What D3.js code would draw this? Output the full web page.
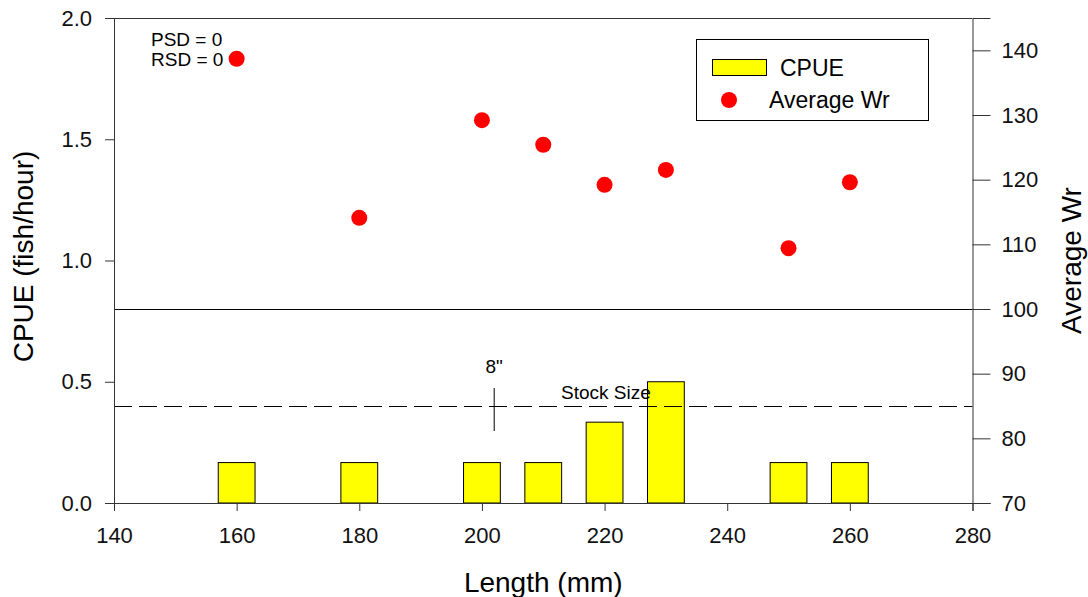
<!DOCTYPE html>
<html>
<head>
<meta charset="utf-8">
<script src="https://cdn.jsdelivr.net/npm/d3@7"></script>
<style>
  body { margin: 0; background: #fff; }
  svg { display: block; font-family: Arial, "Liberation Sans", sans-serif; }
</style>
</head>
<body>
<svg id="chart" width="1088" height="597"></svg>
<script>
// Length classes (mm)
const lengths = [160, 180, 200, 210, 220, 230, 250, 260];
// Catch per unit effort (fish/hour) per length class
const cpue = [0.1667, 0.1667, 0.1667, 0.1667, 0.3333, 0.5, 0.1667, 0.1667];
// Average relative weight per length class
const avgWr = [138.7, 114.1, 129.2, 125.4, 119.2, 121.5, 109.4, 119.6];

const xTicks = [140, 160, 180, 200, 220, 240, 260, 280];
const yLeftTicks = [0, 0.5, 1.0, 1.5, 2.0];
const yRightTicks = [70, 80, 90, 100, 110, 120, 130, 140];

const stockSizeWr = 85;      // dashed reference line
const benchmarkWr = 100;     // solid reference line
const eightInchMm = 202;     // 8" marker position
const barWidthMm = 6;

const margin = { left: 114, right: 972.5, top: 18, bottom: 503 };
const axisColor = "#333";

const svg = d3.select("#chart");

const x = d3.scaleLinear().domain([140, 280]).range([margin.left, margin.right]);
const yL = d3.scaleLinear().domain([0, 2]).range([margin.bottom, margin.top]);
const yR = d3.scaleLinear().domain([70, 145]).range([margin.bottom, margin.top]);

// Bars
svg.append("g").selectAll("rect")
  .data(lengths.map((l, i) => ({ l, v: cpue[i] })))
  .join("rect")
  .attr("x", d => x(d.l - barWidthMm / 2))
  .attr("width", d => x(d.l + barWidthMm / 2) - x(d.l - barWidthMm / 2))
  .attr("y", d => yL(d.v))
  .attr("height", d => yL(0) - yL(d.v))
  .attr("fill", "#ffff00")
  .attr("stroke", "#000")
  .attr("stroke-width", 1);

// Reference lines
svg.append("line")
  .attr("x1", margin.left).attr("x2", margin.right)
  .attr("y1", Math.round(yR(benchmarkWr)) + 0.5).attr("y2", Math.round(yR(benchmarkWr)) + 0.5)
  .attr("stroke", "#000").attr("stroke-width", 1);

svg.append("line")
  .attr("x1", margin.left).attr("x2", margin.right)
  .attr("y1", Math.round(yR(stockSizeWr)) + 0.5).attr("y2", Math.round(yR(stockSizeWr)) + 0.5)
  .attr("stroke", "#000").attr("stroke-width", 1.2)
  .attr("stroke-dasharray", "18,7");

// 8" marker
const ssY = yR(stockSizeWr);
svg.append("line")
  .attr("x1", x(eightInchMm)).attr("x2", x(eightInchMm))
  .attr("y1", ssY - 18).attr("y2", ssY + 25)
  .attr("stroke", "#000").attr("stroke-width", 1);
svg.append("text")
  .attr("x", x(eightInchMm)).attr("y", ssY - 33)
  .attr("text-anchor", "middle").attr("font-size", 19)
  .text('8"');
svg.append("text")
  .attr("x", 561).attr("y", ssY - 7)
  .attr("font-size", 19)
  .text("Stock Size");

// Points
svg.append("g").selectAll("circle")
  .data(lengths.map((l, i) => ({ l, v: avgWr[i] })))
  .join("circle")
  .attr("cx", d => x(d.l))
  .attr("cy", d => yR(d.v))
  .attr("r", 8)
  .attr("fill", "#ff0000");

// Axes
const tickFont = 22;
const xAxis = svg.append("g")
  .attr("transform", `translate(0,${margin.bottom})`)
  .call(d3.axisBottom(x).tickValues(xTicks).tickSize(8).tickPadding(16).tickFormat(d3.format("d")));
const yAxisL = svg.append("g")
  .attr("transform", `translate(${margin.left},0)`)
  .call(d3.axisLeft(yL).tickValues(yLeftTicks).tickSize(9).tickPadding(13).tickFormat(d3.format(".1f")));
const yAxisR = svg.append("g")
  .attr("transform", `translate(${margin.right},0)`)
  .call(d3.axisRight(yR).tickValues(yRightTicks).tickSize(18).tickPadding(11).tickFormat(d3.format("d")));

[xAxis, yAxisL, yAxisR].forEach(g => {
  g.select(".domain").attr("stroke", axisColor);
  g.selectAll(".tick line").attr("stroke", axisColor);
  g.selectAll("text").attr("font-size", tickFont).attr("fill", "#111")
    .style("font-family", "Arial, 'Liberation Sans', sans-serif");
});

// Top frame
svg.append("line")
  .attr("x1", margin.left - 9).attr("x2", margin.right)
  .attr("y1", margin.top + 0.5).attr("y2", margin.top + 0.5)
  .attr("stroke", axisColor);

// Axis titles
svg.append("text")
  .attr("transform", `translate(33,${(margin.top + margin.bottom) / 2 - 4}) rotate(-90)`)
  .attr("text-anchor", "middle").attr("font-size", 28)
  .text("CPUE (fish/hour)");
svg.append("text")
  .attr("x", (margin.left + margin.right) / 2).attr("y", 592)
  .attr("text-anchor", "middle").attr("font-size", 28)
  .text("Length (mm)");
svg.append("text")
  .attr("transform", `translate(1081,${(margin.top + margin.bottom) / 2}) rotate(-90)`)
  .attr("text-anchor", "middle").attr("font-size", 28)
  .text("Average Wr");

// Stock indices
svg.append("text").attr("x", 151).attr("y", 46).attr("font-size", 19).text("PSD = 0");
svg.append("text").attr("x", 151).attr("y", 66).attr("font-size", 19).text("RSD = 0");

// Legend
const lg = svg.append("g");
lg.append("rect")
  .attr("x", 696.5).attr("y", 39.5).attr("width", 232).attr("height", 81)
  .attr("fill", "#fff").attr("stroke", "#000");
lg.append("rect")
  .attr("x", 712.5).attr("y", 59.5).attr("width", 54).attr("height", 16)
  .attr("fill", "#ffff00").attr("stroke", "#000");
lg.append("text").attr("x", 780).attr("y", 76).attr("font-size", 23).text("CPUE");
lg.append("circle").attr("cx", 729).attr("cy", 100).attr("r", 8).attr("fill", "#ff0000");
lg.append("text").attr("x", 769).attr("y", 108).attr("font-size", 23).text("Average Wr");
</script>
</body>
</html>
